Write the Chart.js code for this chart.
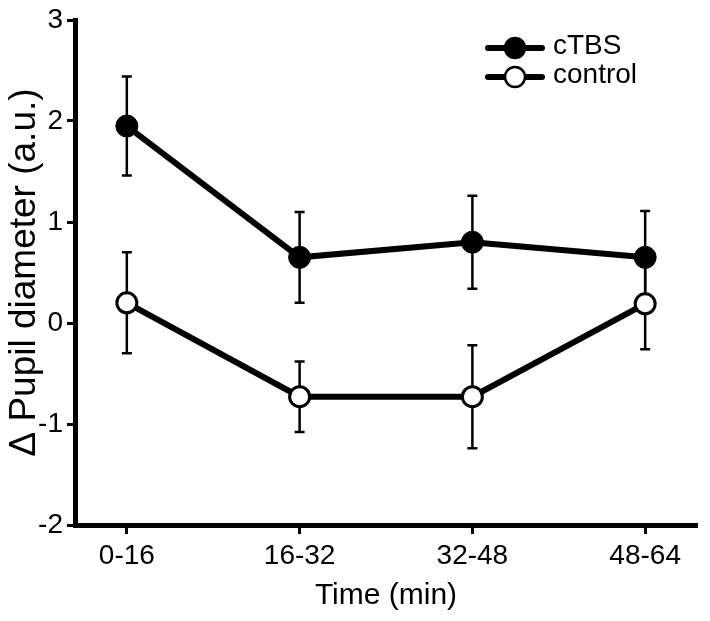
<!DOCTYPE html>
<html>
<head>
<meta charset="utf-8">
<script src="https://cdn.jsdelivr.net/npm/chart.js@4.4.1/dist/chart.umd.min.js"></script>
<style>
  html, body { margin: 0; padding: 0; background: #fff; }
  #wrap { width: 710px; height: 621px; }
</style>
</head>
<body>
<div id="wrap"><canvas id="pupilChart"></canvas></div>
<script>
const timeBins = ["0-16", "16-32", "32-48", "48-64"];
const ctbsMean = [1.95, 0.65, 0.8, 0.65];
const ctbsErr = [0.49, 0.45, 0.46, 0.46];
const controlMean = [0.2, -0.73, -0.73, 0.19];
const controlErr = [0.5, 0.35, 0.51, 0.45];
const yTicks = [-2, -1, 0, 1, 2, 3];

const FONT = "'Liberation Sans', Arial, sans-serif";

function toPoints(values) {
  return values.map((v, i) => ({ x: i, y: v }));
}

// error bars drawn under the markers
const errorBars = {
  id: "errorBars",
  beforeDatasetsDraw(chart) {
    const ctx = chart.ctx;
    const xs = chart.scales.x;
    const ys = chart.scales.y;
    const sets = [
      [ctbsMean, ctbsErr],
      [controlMean, controlErr],
    ];
    ctx.save();
    ctx.strokeStyle = "#000";
    ctx.lineWidth = 2.5;
    sets.forEach(([means, errs]) => {
      means.forEach((m, i) => {
        const x = xs.getPixelForValue(i);
        const top = ys.getPixelForValue(m + errs[i]);
        const bot = ys.getPixelForValue(m - errs[i]);
        ctx.beginPath();
        ctx.moveTo(x, top);
        ctx.lineTo(x, bot);
        ctx.moveTo(x - 5, top);
        ctx.lineTo(x + 5, top);
        ctx.moveTo(x - 5, bot);
        ctx.lineTo(x + 5, bot);
        ctx.stroke();
      });
    });
    ctx.restore();
  },
};

// legend with line through the marker
const lineLegend = {
  id: "lineLegend",
  afterDraw(chart) {
    const ctx = chart.ctx;
    const items = chart.data.datasets;
    const x0 = 488, x1 = 542, y0 = 48, gap = 29;
    ctx.save();
    items.forEach((ds, k) => {
      const y = y0 + k * gap;
      ctx.strokeStyle = "#000";
      ctx.lineWidth = 6;
      ctx.lineCap = "round";
      ctx.beginPath();
      ctx.moveTo(x0, y);
      ctx.lineTo(x1, y);
      ctx.stroke();
      ctx.beginPath();
      ctx.arc((x0 + x1) / 2, y, 10, 0, Math.PI * 2);
      ctx.fillStyle = ds.pointBackgroundColor;
      ctx.fill();
      ctx.lineWidth = 2.5;
      ctx.stroke();
      ctx.fillStyle = "#000";
      ctx.font = "28px " + FONT;
      ctx.textBaseline = "middle";
      ctx.textAlign = "left";
      ctx.fillText(ds.label, 553, y - 2);
    });
    ctx.restore();
  },
};

new Chart(document.getElementById("pupilChart"), {
  type: "line",
  data: {
    datasets: [
      {
        label: "cTBS",
        data: toPoints(ctbsMean),
        borderColor: "#000",
        borderWidth: 6,
        pointRadius: 11,
        pointBackgroundColor: "#000",
        pointBorderColor: "#000",
        pointBorderWidth: 1,
        tension: 0,
      },
      {
        label: "control",
        data: toPoints(controlMean),
        borderColor: "#000",
        borderWidth: 6,
        pointRadius: 10,
        pointBackgroundColor: "#fff",
        pointBorderColor: "#000",
        pointBorderWidth: 3,
        tension: 0,
      },
    ],
  },
  options: {
    responsive: true,
    maintainAspectRatio: false,
    animation: false,
    layout: { padding: { top: 20, right: 0, left: 0, bottom: 0 } },
    plugins: {
      legend: { display: false },
      tooltip: { enabled: false },
    },
    scales: {
      x: {
        type: "linear",
        min: -0.3,
        max: 3.3,
        afterBuildTicks: (axis) => {
          axis.ticks = timeBins.map((_, i) => ({ value: i }));
        },
        afterFit: (axis) => {
          axis.height = 96;
          axis.paddingLeft = 0;
          axis.paddingRight = 0;
        },
        border: { display: true, color: "#000", width: 5 },
        grid: {
          drawOnChartArea: false,
          drawTicks: true,
          tickLength: 9,
          tickWidth: 3,
          color: "#000",
        },
        ticks: {
          color: "#000",
          font: { family: FONT, size: 28 },
          padding: 5,
          autoSkip: false,
          maxRotation: 0,
          callback: (v) => timeBins[v],
        },
        title: {
          display: true,
          text: "Time (min)",
          color: "#000",
          font: { family: FONT, size: 30 },
          padding: { top: 2, bottom: 7 },
        },
      },
      y: {
        min: -2,
        max: 3,
        afterBuildTicks: (axis) => {
          axis.ticks = yTicks.map((v) => ({ value: v }));
        },
        afterFit: (axis) => {
          axis.width = 75;
          axis.paddingTop = 0;
          axis.paddingBottom = 0;
        },
        border: { display: true, color: "#000", width: 5 },
        grid: {
          drawOnChartArea: false,
          drawTicks: true,
          tickLength: 8,
          tickWidth: 3,
          color: "#000",
        },
        ticks: {
          color: "#000",
          font: { family: FONT, size: 28 },
          padding: 4,
        },
        title: {
          display: true,
          text: "\u0394 Pupil diameter (a.u.)",
          color: "#000",
          font: { family: FONT, size: 37 },
          padding: { top: 3, bottom: 0 },
        },
      },
    },
  },
  plugins: [errorBars, lineLegend],
});
</script>
</body>
</html>
